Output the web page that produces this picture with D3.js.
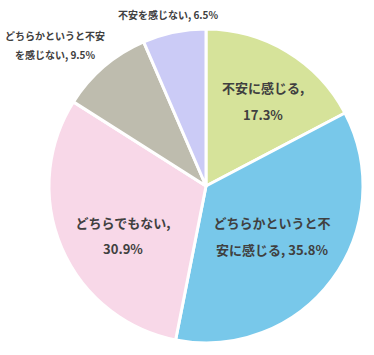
<!DOCTYPE html>
<html><head><meta charset="utf-8">
<script src="https://cdn.jsdelivr.net/npm/d3@7/dist/d3.min.js"></script>
<style>body{margin:0;background:#fff}svg{display:block}</style>
</head><body>
<svg id="c" width="374" height="355"></svg>
<script>
const categories = ["不安に感じる", "どちらかというと不安に感じる", "どちらでもない", "どちらかというと不安を感じない", "不安を感じない"];
const values = [17.3, 35.8, 30.9, 9.5, 6.5];
const colors = ["#d6e39a", "#78c8ea", "#f8d8e8", "#bebcae", "#cbcbf6"];
const labelLines = [
  ["不安に感じる,", "17.3%"],
  ["どちらかというと不", "安に感じる, 35.8%"],
  ["どちらでもない,", "30.9%"],
  ["どちらかというと不安", "を感じない, 9.5%"],
  ["不安を感じない, 6.5%"]
];
const labelPos = [[263, 87], [272, 222], [123, 222], [55, 35], [168, 14]];
const labelSize = [13, 13, 13, 10, 10];
const lineGap = [27, 27, 26, 19, 0];

const svg = d3.select("#c");
const cx = 206, cy = 186, r = 157;
const pie = d3.pie().sort(null).value(d => d)(values);
const arc = d3.arc().innerRadius(0).outerRadius(r);
const g = svg.append("g").attr("transform", `translate(${cx},${cy})`);
g.selectAll("path").data(pie).join("path")
  .attr("d", arc)
  .attr("fill", (d, i) => colors[i])
  .attr("stroke", "#fff").attr("stroke-width", 3).attr("stroke-linejoin", "round");

labelLines.forEach((lines, i) => {
  const t = svg.append("text")
    .attr("text-anchor", "middle")
    .attr("font-family", "'Noto Sans CJK JP', sans-serif")
    .attr("font-weight", "bold")
    .attr("font-size", labelSize[i])
    .attr("fill", "#404040");
  lines.forEach((ln, j) => {
    t.append("tspan").attr("x", labelPos[i][0]).attr("y", labelPos[i][1] + j * lineGap[i])
      .attr("dominant-baseline", "central").text(ln);
  });
});
</script>
</body></html>
